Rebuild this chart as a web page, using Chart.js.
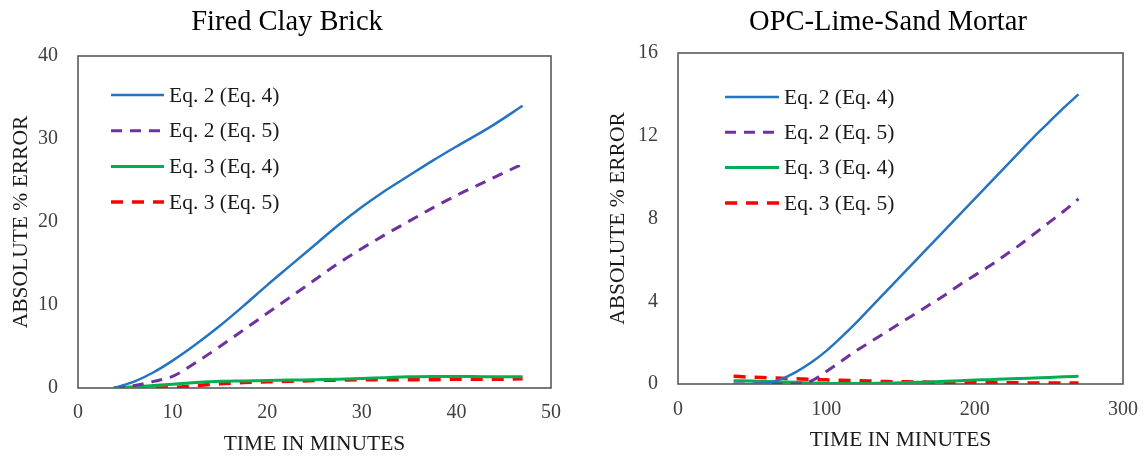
<!DOCTYPE html>
<html>
<head>
<meta charset="utf-8">
<script src="https://cdn.jsdelivr.net/npm/chart.js@4.4.1/dist/chart.umd.min.js"></script>
<style>
html, body { margin: 0; padding: 0; overflow: hidden; background: #fff; }
body { width: 1146px; height: 457px; position: relative; }
#box1 { position: absolute; left: 0; top: 0; }
#box2 { position: absolute; left: 600px; top: 0; }
</style>
</head>
<body>
<div id="box1"><canvas id="brickChart" width="574" height="457"></canvas></div>
<div id="box2"><canvas id="mortarChart" width="576" height="457"></canvas></div>
<script>
// series labels
let seriesLabels = ['Eq. 2 (Eq. 4)', 'Eq. 2 (Eq. 5)', 'Eq. 3 (Eq. 4)', 'Eq. 3 (Eq. 5)'];

// Fired clay brick (time in minutes, absolute % error)
let brickTime    = [3.8, 6, 8, 10, 12.5, 15, 17.5, 20, 22.5, 25, 27.5, 30, 32.5, 35, 37.5, 40, 43.5, 47];
let brickEq2Eq4  = [0, 0.8, 1.9, 3.3, 5.3, 7.5, 9.9, 12.4, 14.8, 17.2, 19.6, 21.8, 23.8, 25.6, 27.4, 29.1, 31.4, 34];
let brickEq2Eq5  = [0, 0.3, 0.8, 1.4, 3.1, 5.0, 7.0, 9.0, 11.0, 13.0, 15.0, 16.8, 18.5, 20.1, 21.7, 23.2, 25.1, 27];
let brickEq3Eq4  = [0, 0.15, 0.3, 0.45, 0.65, 0.8, 0.85, 0.9, 0.95, 1.0, 1.05, 1.15, 1.25, 1.35, 1.4, 1.4, 1.35, 1.35];
let brickEq3Eq5  = [0, 0, 0, 0.05, 0.3, 0.5, 0.65, 0.75, 0.8, 0.9, 0.95, 1.0, 1.0, 1.0, 1.0, 1.05, 1.05, 1.1];

// OPC-lime-sand mortar
let mortarTime   = [37.5, 50, 60, 70, 80, 90, 100, 110, 120, 130, 140, 150, 160, 170, 180, 190, 200, 210, 220, 230, 240, 250, 260, 270];
let mortarEq2Eq4 = [0, 0, 0.05, 0.25, 0.6, 1.05, 1.6, 2.25, 2.95, 3.7, 4.45, 5.2, 5.95, 6.7, 7.45, 8.2, 8.95, 9.7, 10.45, 11.2, 11.95, 12.65, 13.35, 14.0];
let mortarEq2Eq5 = [0, 0, 0, 0, 0, 0.15, 0.6, 1.1, 1.6, 2.05, 2.5, 2.95, 3.4, 3.85, 4.3, 4.8, 5.25, 5.7, 6.2, 6.7, 7.25, 7.8, 8.35, 8.95];
let mortarEq3Eq4 = [0.16, 0.14, 0.12, 0.1, 0.08, 0.05, 0.03, 0.02, 0.02, 0.03, 0.04, 0.06, 0.08, 0.1, 0.13, 0.16, 0.19, 0.21, 0.24, 0.26, 0.29, 0.32, 0.35, 0.37];
let mortarEq3Eq5 = [0.37, 0.33, 0.3, 0.28, 0.25, 0.22, 0.2, 0.18, 0.16, 0.14, 0.12, 0.11, 0.1, 0.09, 0.08, 0.075, 0.07, 0.065, 0.06, 0.055, 0.05, 0.05, 0.05, 0.05];

// axis ticks
let brickXTicks  = [0, 10, 20, 30, 40, 50];
let brickYTicks  = [0, 10, 20, 30, 40];
let mortarXTicks = [0, 100, 200, 300];
let mortarYTicks = [0, 4, 8, 12, 16];

let lineStyles = [
    { color: '#2474C2', width: 2.5, dash: [] },
    { color: '#7030A0', width: 3,   dash: [11, 8] },
    { color: '#00B050', width: 3,   dash: [] },
    { color: '#FF0000', width: 3.5, dash: [12, 9] }
];

Chart.defaults.font.family = "'Liberation Serif', 'Times New Roman', serif";

function toPoints(xs, ys) {
    return xs.map(function (t, i) { return { x: t, y: ys[i] }; });
}

// centre the title over the whole canvas, not only the padded area
let titleWide = {
    id: 'titleWide',
    afterLayout(chart) {
        let t = chart.titleBlock;
        if (!t) return;
        t.left = 0;
        t.right = chart.width;
        t.width = chart.width;
    }
};

// plot frame behind the lines, legend drawn inside the plot
let frameLegend = {
    id: 'frameLegend',
    beforeDatasetsDraw(chart) {
        let a = chart.chartArea, ctx = chart.ctx;
        ctx.save();
        ctx.strokeStyle = '#595959';
        ctx.lineWidth = 1.6;
        ctx.strokeRect(a.left, a.top, a.right - a.left, a.bottom - a.top);
        ctx.restore();
    },
    afterDatasetsDraw(chart, args, opts) {
        let a = chart.chartArea, ctx = chart.ctx;
        ctx.save();
        ctx.font = "21.5px 'Liberation Serif'";
        ctx.textBaseline = 'middle';
        chart.data.datasets.forEach(function (ds, i) {
            let x = a.left + opts.left;
            let y = a.top + opts.top + i * opts.gap;
            ctx.beginPath();
            ctx.setLineDash(ds.borderDash || []);
            ctx.strokeStyle = ds.borderColor;
            ctx.lineWidth = ds.borderWidth;
            ctx.moveTo(x, y);
            ctx.lineTo(x + opts.len, y);
            ctx.stroke();
            ctx.setLineDash([]);
            ctx.fillStyle = '#1a1a1a';
            ctx.fillText(ds.label, x + opts.len + 5, y + 1);
        });
        ctx.restore();
    }
};

function makeChart(id, o) {
    let datasets = o.series.map(function (ys, i) {
        return {
            label: seriesLabels[i],
            data: toPoints(o.time, ys),
            borderColor: lineStyles[i].color,
            borderWidth: lineStyles[i].width,
            borderDash: lineStyles[i].dash,
            pointRadius: 0,
            fill: false,
            cubicInterpolationMode: 'monotone'
        };
    });
    let xt = o.xTicks, yt = o.yTicks;
    return new Chart(document.getElementById(id).getContext('2d'), {
        type: 'line',
        data: { datasets: datasets },
        options: {
            responsive: false,
            animation: false,
            layout: { padding: { left: 0, right: o.padRight, top: 0, bottom: 0 } },
            plugins: {
                legend: { display: false },
                tooltip: { enabled: false },
                title: {
                    display: true,
                    text: o.title,
                    color: '#000',
                    font: { size: 28.5, weight: 'normal' },
                    padding: { top: 5.5, bottom: o.titleGap }
                },
                frameLegend: o.legend
            },
            scales: {
                x: {
                    type: 'linear',
                    min: xt[0],
                    max: xt[xt.length - 1],
                    afterBuildTicks: function (s) { s.ticks = xt.map(function (v) { return { value: v }; }); },
                    grid: { display: false, drawTicks: false },
                    border: { display: false },
                    ticks: { color: '#404040', font: { size: 20 }, padding: o.xPad, maxRotation: 0 },
                    title: {
                        display: true, text: 'TIME IN MINUTES', color: '#1a1a1a',
                        font: { size: 21.5 }, padding: { top: 0, bottom: o.xTitlePad }
                    },
                    afterFit: function (s) { s.height = o.xHeight; s.paddingLeft = 0; s.paddingRight = 0; }
                },
                y: {
                    min: yt[0],
                    max: yt[yt.length - 1],
                    afterBuildTicks: function (s) { s.ticks = yt.map(function (v) { return { value: v }; }); },
                    grid: { display: false, drawTicks: false },
                    border: { display: false },
                    ticks: { color: '#404040', font: { size: 20 }, padding: 20 },
                    title: {
                        display: true, text: 'ABSOLUTE % ERROR', color: '#1a1a1a',
                        font: { size: 21.5 }, padding: { top: o.yTitlePad, bottom: 0 }
                    },
                    afterFit: function (s) { s.width = o.yWidth; s.paddingTop = 0; s.paddingBottom = 0; }
                }
            }
        },
        plugins: [titleWide, frameLegend]
    });
}

makeChart('brickChart', {
    title: 'Fired Clay Brick',
    time: brickTime,
    series: [brickEq2Eq4, brickEq2Eq5, brickEq3Eq4, brickEq3Eq5],
    xTicks: brickXTicks,
    yTicks: brickYTicks,
    padRight: 23,
    titleGap: 16.3,
    xHeight: 69,
    yWidth: 78,
    xPad: 13,
    xTitlePad: 0,
    yTitlePad: 8,
    legend: { left: 33, top: 39, gap: 35.7, len: 53 }
});

makeChart('mortarChart', {
    title: 'OPC-Lime-Sand Mortar',
    time: mortarTime,
    series: [mortarEq2Eq4, mortarEq2Eq5, mortarEq3Eq4, mortarEq3Eq5],
    xTicks: mortarXTicks,
    yTicks: mortarYTicks,
    padRight: 53,
    titleGap: 13.3,
    xHeight: 73,
    yWidth: 78,
    xPad: 14,
    xTitlePad: 4,
    yTitlePad: 5,
    legend: { left: 47, top: 44, gap: 35.3, len: 54 }
});
</script>
</body>
</html>
